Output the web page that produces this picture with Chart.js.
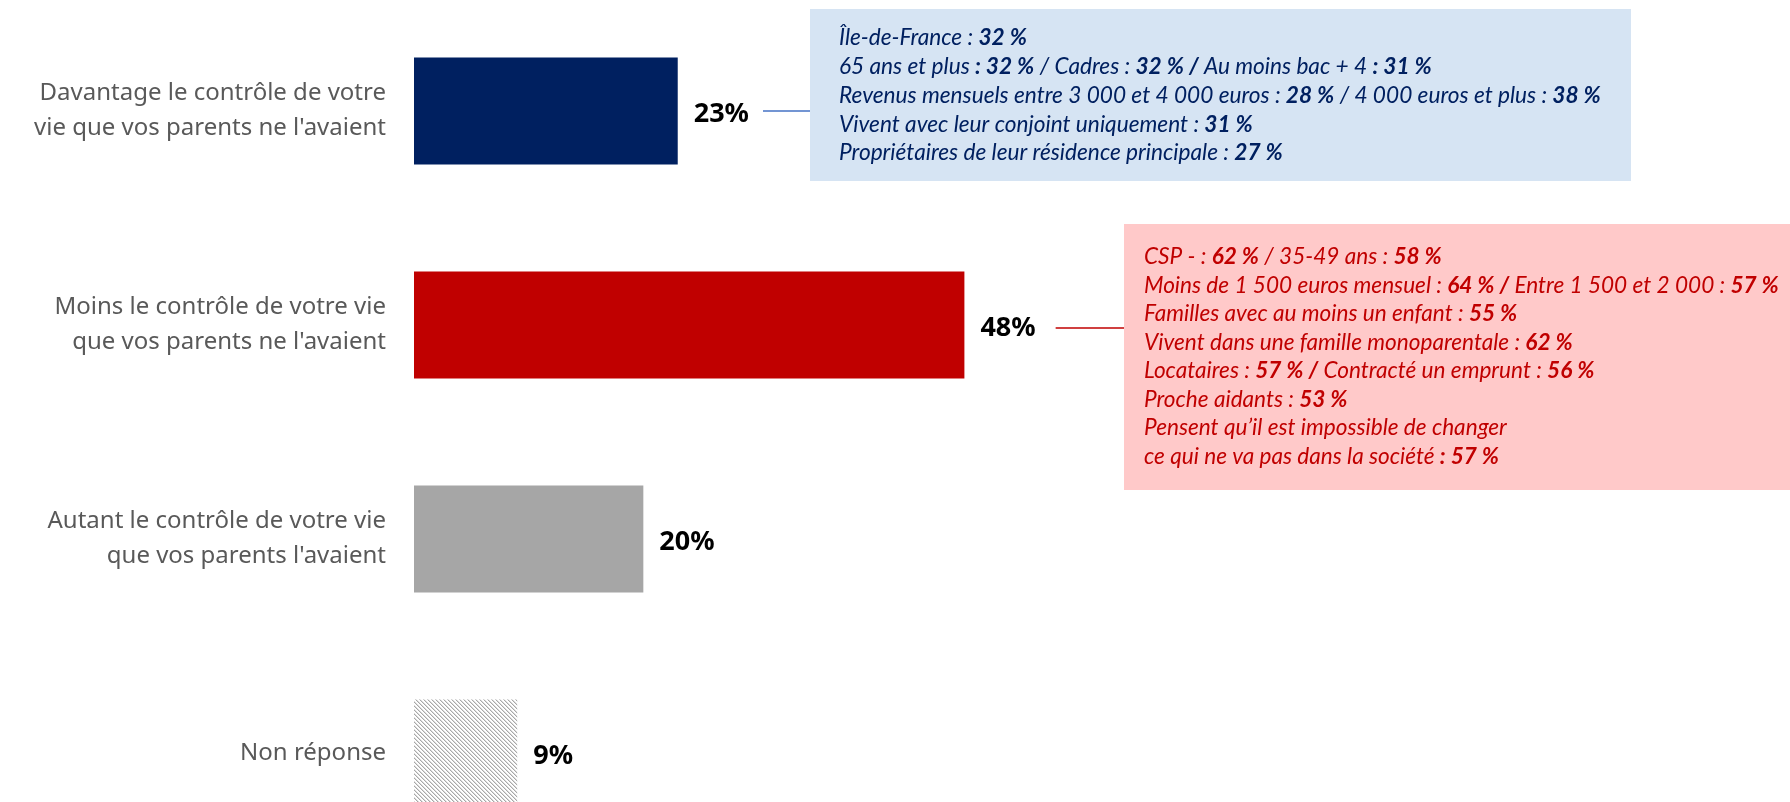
<!DOCTYPE html>
<html lang="fr">
<head>
<meta charset="utf-8">
<title>Contrôle de votre vie</title>
<script src="https://cdn.jsdelivr.net/npm/chart.js@4/dist/chart.umd.min.js"></script>
<style>
  html, body { margin: 0; padding: 0; background: #fff; overflow: hidden; }
  #wrap { width: 1790px; height: 802px; overflow: hidden; }
  canvas { display: block; }
</style>
</head>
<body>
<div id="wrap"><canvas id="chart" width="1790" height="864"></canvas></div>
<script>
// données
const categories = [
  ['Davantage le contrôle de votre', "vie que vos parents ne l'avaient"],
  ['Moins le contrôle de votre vie', "que vos parents ne l'avaient"],
  ['Autant le contrôle de votre vie', "que vos parents l'avaient"],
  ['Non réponse']
];
const values = [23, 48, 20, 9];
const valueLabels = ['23%', '48%', '20%', '9%'];

// détails (texte normal / gras)
const blueNotes = [
  [['Île-de-France : ', 0], ['32 %', 1]],
  [['65 ans et plus ', 0], [': 32 %', 1], [' / Cadres : ', 0], ['32 % /', 1], [' Au moins bac + 4 ', 0], [': 31 %', 1]],
  [['Revenus mensuels entre 3 000 et 4 000 euros : ', 0], ['28 %', 1], [' / 4 000 euros et plus : ', 0], ['38 %', 1]],
  [['Vivent avec leur conjoint uniquement : ', 0], ['31 %', 1]],
  [['Propriétaires de leur résidence principale : ', 0], ['27 %', 1]]
];
const redNotes = [
  [['CSP - : ', 0], ['62 %', 1], [' / 35-49 ans : ', 0], ['58 %', 1]],
  [['Moins de 1 500 euros mensuel : ', 0], ['64 % /', 1], [' Entre 1 500 et 2 000 : ', 0], ['57 %', 1]],
  [['Familles avec au moins un enfant : ', 0], ['55 %', 1]],
  [['Vivent dans une famille monoparentale : ', 0], ['62 %', 1]],
  [['Locataires : ', 0], ['57 % /', 1], [' Contracté un emprunt : ', 0], ['56 %', 1]],
  [['Proche aidants : ', 0], ['53 %', 1]],
  [['Pensent qu’il est impossible de changer', 0]],
  [['ce qui ne va pas dans la société ', 0], [': 57 %', 1]]
];

function hatch() {
  const c = document.createElement('canvas');
  c.width = 4; c.height = 4;
  const g = c.getContext('2d');
  g.fillStyle = '#fff';
  g.fillRect(0, 0, 4, 4);
  for (let x = 0; x < 4; x++) {
    for (let y = 0; y < 4; y++) {
      const d = (x - y + 8) % 4;
      if (d === 0) { g.fillStyle = '#a8a8a8'; g.fillRect(x, y, 1, 1); }
      if (d === 1) { g.fillStyle = '#dcdcdc'; g.fillRect(x, y, 1, 1); }
    }
  }
  return g.createPattern(c, 'repeat');
}

const NOTE_FONT = '"Lato", "Open Sans", sans-serif';

function fitSize(ctx, lines, target) {
  let widest = 0;
  lines.forEach(line => {
    let w = 0;
    line.forEach(([t, b]) => {
      ctx.font = `italic ${b ? 'bold ' : ''}20px ${NOTE_FONT}`;
      w += ctx.measureText(t).width;
    });
    widest = Math.max(widest, w);
  });
  return 20 * target / widest;
}

function drawNotes(ctx, lines, box, color) {
  ctx.save();
  ctx.fillStyle = box.bg;
  ctx.fillRect(box.x, box.y, box.w, box.h);
  const size = fitSize(ctx, lines, box.textW);
  ctx.fillStyle = color;
  ctx.textBaseline = 'middle';
  ctx.textAlign = 'left';
  lines.forEach((line, i) => {
    let x = box.x + box.padX;
    const y = box.y + box.firstY + i * box.lineH;
    line.forEach(([t, b]) => {
      ctx.font = `italic ${b ? 'bold ' : ''}${size}px ${NOTE_FONT}`;
      ctx.fillText(t, x, y);
      x += ctx.measureText(t).width;
    });
  });
  ctx.restore();
}

const extras = {
  id: 'extras',
  afterDatasetsDraw(chart) {
    const ctx = chart.ctx;
    const bars = chart.getDatasetMeta(0).data;
    ctx.save();
    ctx.fillStyle = '#000';
    ctx.font = 'bold 27px "Noto Sans", sans-serif';
    ctx.textBaseline = 'middle';
    const ends = bars.map((bar, i) => {
      ctx.fillText(valueLabels[i], bar.x + 16, bar.y + 3);
      return bar.x + 16 + ctx.measureText(valueLabels[i]).width;
    });

    const blueBox = { x: 810, y: 9, w: 821, h: 172, bg: '#d6e4f3', padX: 29, firstY: 29, lineH: 28.75, textW: 762 };
    const redBox = { x: 1124, y: 224, w: 666, h: 266, bg: '#ffc9c9', padX: 20, firstY: 33, lineH: 28.5, textW: 635 };

    ctx.lineWidth = 1.5;
    ctx.strokeStyle = '#4472c4';
    ctx.beginPath();
    ctx.moveTo(ends[0] + 14, bars[0].y);
    ctx.lineTo(blueBox.x, bars[0].y);
    ctx.stroke();
    ctx.strokeStyle = '#c00000';
    ctx.beginPath();
    ctx.moveTo(ends[1] + 20, bars[1].y + 3);
    ctx.lineTo(redBox.x, bars[1].y + 3);
    ctx.stroke();
    ctx.restore();

    drawNotes(ctx, blueNotes, blueBox, '#002060');
    drawNotes(ctx, redNotes, redBox, '#c00000');
  }
};

new Chart(document.getElementById('chart'), {
  type: 'bar',
  data: {
    labels: categories,
    datasets: [{
      data: values,
      backgroundColor: ['#002060', '#c00000', '#a6a6a6', hatch()],
      borderWidth: 0,
      barPercentage: 0.5,
      categoryPercentage: 1
    }]
  },
  options: {
    indexAxis: 'y',
    responsive: false,
    maintainAspectRatio: false,
    animation: false,
    devicePixelRatio: 1,
    layout: { padding: { top: 4, bottom: 4, left: 0, right: 0 } },
    plugins: { legend: { display: false }, tooltip: { enabled: false } },
    scales: {
      x: { type: 'linear', min: 0, max: 120, display: false },
      y: {
        grid: { display: false, drawTicks: false },
        border: { display: false },
        ticks: {
          color: '#595959',
          padding: 28,
          font: { family: '"Noto Sans", sans-serif', size: 24, lineHeight: 1.45 }
        },
        afterFit(scale) {
          scale.width = 414;
          scale.paddingTop = 0;
          scale.paddingBottom = 0;
        }
      }
    }
  },
  plugins: [extras]
});
</script>
</body>
</html>
